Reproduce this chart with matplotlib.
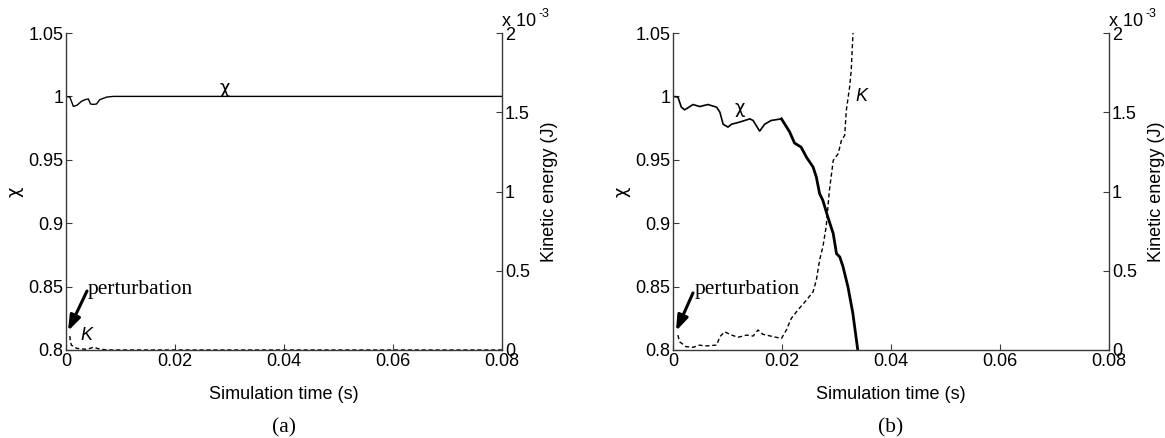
import matplotlib
matplotlib.use("Agg")
import matplotlib.pyplot as plt
from matplotlib.ticker import FixedLocator, FixedFormatter

# ---------------- data ----------------
# panel (a)
t_chi_a = [0.0, 0.0007, 0.00135, 0.0020, 0.0029, 0.0035, 0.0041, 0.0045, 0.0050,
           0.0056, 0.0062, 0.0075, 0.0087, 0.0100, 0.0800]
chi_a = [1.0, 0.9995, 0.9921, 0.9930, 0.9963, 0.9974, 0.9980, 0.9940, 0.9937,
         0.9940, 0.9974, 0.9995, 1.0, 1.0, 1.0]
t_K_a = [0.0007, 0.0008, 0.0010, 0.0020, 0.0038, 0.0050, 0.0062, 0.0075, 0.0800]
K_a = [0.088e-3, 0.055e-3, 0.030e-3, 0.010e-3, 0.004e-3, 0.017e-3, 0.006e-3, 0.0, 0.0]

# panel (b)
t_chi_b1 = [0.0, 0.0009, 0.00153, 0.00214, 0.00367, 0.0049, 0.0064, 0.0080, 0.0086,
            0.0092, 0.0101, 0.0107, 0.0122, 0.0141, 0.0147, 0.0159, 0.0168, 0.0180,
            0.0199]
chi_b1 = [1.0, 0.9995, 0.9915, 0.9894, 0.9936, 0.9920, 0.9936, 0.9915, 0.9876,
          0.9780, 0.9758, 0.9780, 0.9797, 0.9823, 0.9810, 0.9726, 0.9780, 0.9810,
          0.9823]
t_chi_b2 = [0.0199, 0.0214, 0.0223, 0.0235, 0.0245, 0.0257, 0.0263, 0.0269, 0.0275,
            0.0284, 0.0294, 0.0300, 0.0306, 0.0312, 0.0321, 0.0330, 0.0339]
chi_b2 = [0.9823, 0.9720, 0.9632, 0.9600, 0.9520, 0.9443, 0.9364, 0.9233, 0.9180,
          0.9050, 0.8918, 0.8760, 0.8734, 0.8656, 0.8498, 0.8290, 0.8000]
t_K_b = [0.0009, 0.0012, 0.0024, 0.0037, 0.0049, 0.0058, 0.0080, 0.0086, 0.0095,
         0.0104, 0.0119, 0.0135, 0.0147, 0.0156, 0.0165, 0.0184, 0.0199, 0.0208,
         0.0217, 0.0229, 0.0245, 0.0257, 0.0263, 0.0269, 0.0275, 0.0281, 0.0287,
         0.0294, 0.0303, 0.0309, 0.0315, 0.0318, 0.0324, 0.0327, 0.0331]
K_b = [0.094e-3, 0.052e-3, 0.021e-3, 0.017e-3, 0.031e-3, 0.025e-3, 0.031e-3, 0.084e-3,
       0.115e-3, 0.099e-3, 0.080e-3, 0.094e-3, 0.088e-3, 0.126e-3, 0.099e-3, 0.084e-3,
       0.073e-3, 0.126e-3, 0.199e-3, 0.252e-3, 0.315e-3, 0.367e-3, 0.441e-3, 0.567e-3,
       0.651e-3, 0.777e-3, 1.007e-3, 1.196e-3, 1.238e-3, 1.322e-3, 1.354e-3, 1.511e-3,
       1.658e-3, 1.763e-3, 2.05e-3]

x_ticks = [0, 0.02, 0.04, 0.06, 0.08]
x_ticklabels = ["0", "0.02", "0.04", "0.06", "0.08"]
chi_ticks = [0.8, 0.85, 0.9, 0.95, 1.0, 1.05]
chi_ticklabels = ["0.8", "0.85", "0.9", "0.95", "1", "1.05"]
K_ticks = [0, 0.5e-3, 1e-3, 1.5e-3, 2e-3]
K_ticklabels = ["0", "0.5", "1", "1.5", "2"]

# ---------------- style ----------------
SANS = "Liberation Sans"
SERIF = "Liberation Serif"
FS = 13
plt.rcParams["font.family"] = [SANS, "DejaVu Sans"]
plt.rcParams["font.size"] = FS
plt.rcParams["xtick.labelsize"] = FS
plt.rcParams["ytick.labelsize"] = FS
plt.rcParams["axes.labelsize"] = FS
AXC = "#3a3a3a"

W, H = 1165, 438
fig = plt.figure(figsize=(W / 100, H / 100), dpi=100)


def px_axes(l, r, t, b):
    return [l / W, 1 - b / H, (r - l) / W, (b - t) / H]


def setup(ax):
    ax.set_xlim(0, 0.08)
    ax.set_ylim(0.8, 1.05)
    ax.xaxis.set_major_locator(FixedLocator(x_ticks))
    ax.xaxis.set_major_formatter(FixedFormatter(x_ticklabels))
    ax.yaxis.set_major_locator(FixedLocator(chi_ticks))
    ax.yaxis.set_major_formatter(FixedFormatter(chi_ticklabels))
    ax.spines["top"].set_visible(False)
    ax.spines["right"].set_visible(False)
    for s in ("left", "bottom"):
        ax.spines[s].set_color(AXC)
        ax.spines[s].set_linewidth(1.0)
    ax.tick_params(direction="in", length=4, width=0.8, color=AXC,
                   labelsize=FS, pad=2)
    ax.set_xlabel("Simulation time (s)", fontsize=FS, labelpad=12)
    ax.set_ylabel("χ", fontsize=FS, family="DejaVu Sans", rotation=90)
    ax.yaxis.set_label_coords(-0.097, 0.5)
    ax2 = ax.twinx()
    ax2.set_ylim(0, 2e-3)
    ax2.yaxis.set_major_locator(FixedLocator(K_ticks))
    ax2.yaxis.set_major_formatter(FixedFormatter(K_ticklabels))
    for s in ("top", "left", "bottom"):
        ax2.spines[s].set_visible(False)
    ax2.spines["right"].set_color(AXC)
    ax2.spines["right"].set_linewidth(1.0)
    ax2.tick_params(direction="in", length=4, width=0.8, color=AXC,
                    labelsize=FS, pad=2)
    ax2.set_ylabel("Kinetic energy (J)", fontsize=FS, labelpad=8)
    ax2.text(1.0, 1.008, "x 10", transform=ax2.transAxes,
             fontsize=FS, ha="left", va="bottom")
    ax2.text(1.083, 1.042, "-3", transform=ax2.transAxes,
             fontsize=9, ha="left", va="bottom")
    return ax2


def arrow(ax, tail, head):
    ax.annotate("", xy=head, xytext=tail,
                arrowprops=dict(arrowstyle="-|>,head_length=0.7,head_width=0.25",
                                lw=2.2, color="black", shrinkA=0, shrinkB=0))


# ---------------- panel (a) ----------------
axa = fig.add_axes(px_axes(66, 502, 33, 350))
axa2 = setup(axa)
axa.plot(t_chi_a, chi_a, color="black", lw=1.0)
axa2.plot(t_K_a, K_a, color="black", lw=1.0, ls=(0, (3, 2)))
axa.text(0.0292, 0.9995, "χ", fontsize=FS, family="DejaVu Sans",
         ha="center", va="bottom")
axa.text(0.0038, 0.8118, "K", fontsize=FS, style="italic", ha="center", va="center")
axa.text(0.0040, 0.848, "perturbation", fontsize=15.5, family=SERIF,
         ha="left", va="center")
arrow(axa, (0.00385, 0.8465), (0.00037, 0.815))
axa.text(0.5, -0.245, "(a)", transform=axa.transAxes, fontsize=15.5,
         family=SERIF, ha="center", va="center")

# ---------------- panel (b) ----------------
axb = fig.add_axes(px_axes(673, 1109, 33, 350))
axb2 = setup(axb)
axb.plot(t_chi_b1, chi_b1, color="black", lw=1.2)
axb.plot(t_chi_b2, chi_b2, color="black", lw=2.0)
axb2.plot(t_K_b, K_b, color="black", lw=1.0, ls=(0, (3, 2)))
axb.text(0.0123, 0.9835, "χ", fontsize=FS, family="DejaVu Sans",
         ha="center", va="bottom")
axb.text(0.0345, 0.993, "K", fontsize=FS, style="italic", ha="center", va="bottom")
axb.text(0.0040, 0.848, "perturbation", fontsize=15.5, family=SERIF,
         ha="left", va="center")
arrow(axb, (0.00367, 0.845), (0.00055, 0.815))
axb.text(0.5, -0.245, "(b)", transform=axb.transAxes, fontsize=15.5,
         family=SERIF, ha="center", va="center")

fig.savefig("out.png", dpi=100)
